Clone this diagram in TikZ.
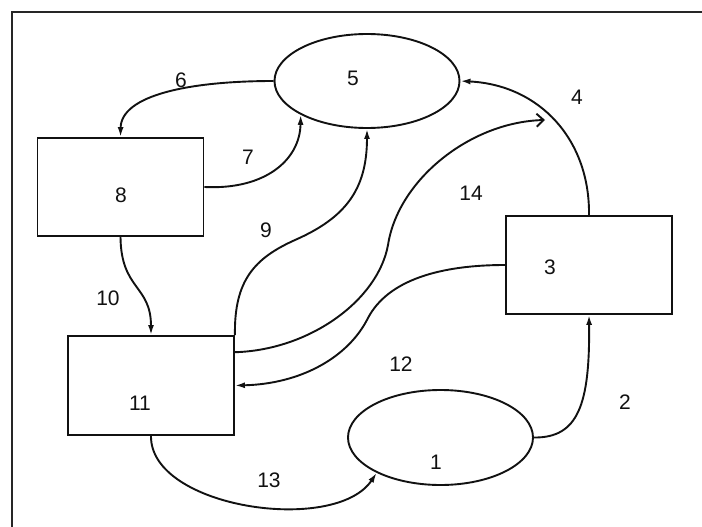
\documentclass[tikz,border=0pt]{standalone}
\usepackage{fontspec}
\setmainfont{Liberation Sans}
\usetikzlibrary{arrows.meta,shapes.geometric,calc}
\definecolor{ink}{HTML}{111111}
\tikzset{
  blockbox/.style={draw=ink,line width=1.9pt,rectangle,minimum width=166pt,minimum height=98pt,inner sep=0pt},
  ovalbox/.style={draw=ink,line width=1.9pt,ellipse,minimum width=185pt,minimum height=94pt,inner sep=0pt},
  tag/.style={font=\fontsize{21}{21}\selectfont,text=ink,inner sep=0pt},
  flow/.style={draw=ink,line width=1.9pt,-{Latex[length=10pt,width=6pt]}},
  openflow/.style={draw=ink,line width=1.9pt,-{Straight Barb[length=7pt,width=13pt,line width=1.9pt]}},
  frameline/.style={draw=black!85,line width=2.4pt}
}
\begin{document}
\begin{tikzpicture}[x=1pt,y=-1pt]
\useasboundingbox (0,0) rectangle (702,527);
\fill[white] (0,0) rectangle (702,527);
% outer frame (top and left edges)
\draw[frameline] (12,527) -- (12,12) -- (702,12);

% shapes
\node[ovalbox]  (e5)  at (367,81)    {};
\node[blockbox] (r8)  at (120.5,187) {};
\node[blockbox] (r3)  at (589,265)   {};
\node[blockbox,minimum height=99pt] (r11) at (151,385.5) {};
\node[ovalbox,minimum height=95pt]  (e1)  at (440.5,437.5) {};

% texts inside the shapes
\node[tag] (t5)  at (353,78)  {5};
\node[tag] (t8)  at (121,195) {8};
\node[tag] (t3)  at (550,267) {3};
\node[tag] (t11) at (140,403) {11};
\node[tag] (t1)  at (436,462) {1};

% connector labels
\node[tag] (l6)  at (181,80)  {6};
\node[tag] (l4)  at (577,97)  {4};
\node[tag] (l7)  at (248,157) {7};
\node[tag] (l14) at (471,193) {14};
\node[tag] (l9)  at (266,230) {9};
\node[tag] (l10) at (108,298) {10};
\node[tag] (l12) at (401,364) {12};
\node[tag] (l2)  at (625,402) {2};
\node[tag] (l13) at (269,480) {13};

% connectors
\coordinate (p14) at (545,120);
\draw[flow] (e5.west) .. controls (190,81) and (121,95) .. (r8.north);
\draw[flow] (r8.east) .. controls (265,190) and (300,160) .. (e5.207);
\draw[flow] (r11.north east) .. controls (234,280) and (255,258) .. (295,240)
            .. controls (345,218) and (367,190) .. (e5.south);
\draw[openflow] ($(r11.north east)!0.17!(r11.south east)$)
            .. controls (310,350) and (378,300) .. (388,245)
            .. controls (398,180) and (470,122) .. (p14);
\draw[flow] (r3.west) .. controls (440,265) and (388,280) .. (368,318)
            .. controls (348,358) and (300,384) .. (r11.east);
\draw[flow] (r3.north) .. controls (590,140) and (540,85) .. (e5.east);
\draw[flow] (e1.east) .. controls (578,438) and (590,405) .. (r3.south);
\draw[flow] (r11.south) .. controls (150,508) and (335,535) .. (e1.209);
\draw[flow] (r8.south) .. controls (121,290) and (151,285) .. (r11.north);
\end{tikzpicture}
\end{document}
